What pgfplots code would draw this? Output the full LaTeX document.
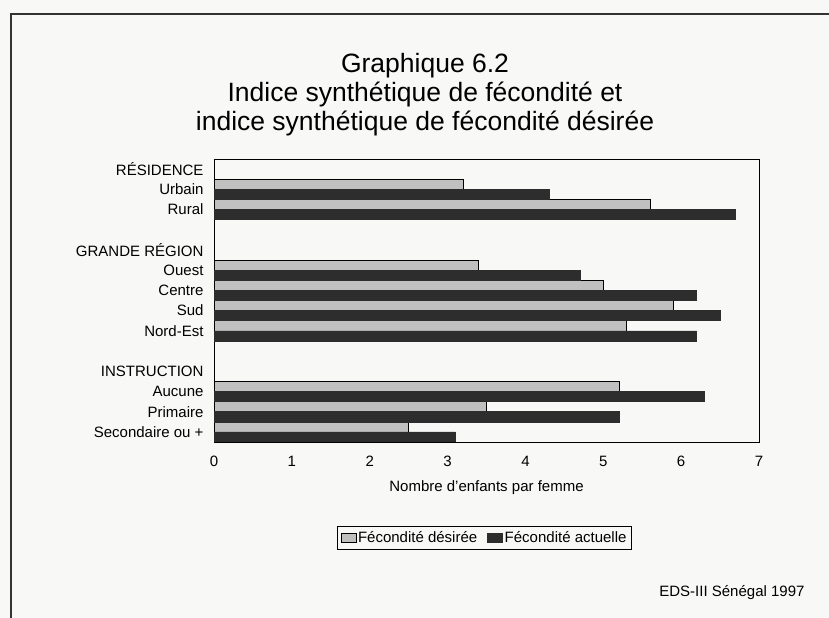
\documentclass[border=0pt]{standalone}
\usepackage{fontspec}
\setmainfont{Liberation Sans}
\usepackage{pgfplots}
\pgfplotsset{compat=1.18}
\definecolor{desir}{RGB}{192,192,192}
\definecolor{actu}{RGB}{45,45,45}
\definecolor{bg}{RGB}{248,248,246}
\begin{document}
\begin{tikzpicture}[x=1bp,y=1bp]
\useasboundingbox (0,0) rectangle (829,618);
\fill[bg] (0,0) rectangle (829,618);
\draw[line width=2.5bp, black!80] (11,0) -- (11,604) -- (829,604);
\node[anchor=base, font=\fontsize{26.5bp}{30bp}\selectfont] at (425,545) {Graphique 6.2};
\node[anchor=base, font=\fontsize{26.5bp}{30bp}\selectfont] at (425,516) {Indice synthétique de fécondité et};
\node[anchor=base, font=\fontsize{26.5bp}{30bp}\selectfont] at (425,487) {indice synthétique de fécondité désirée};
\node[anchor=base east, font=\fontsize{15bp}{18bp}\selectfont] at (808,21) {EDS-III Sénégal 1997};
\begin{axis}[
  at={(214bp,176bp)}, anchor=south west,
  scale only axis, width=545bp, height=283bp,
  xbar, bar width=0.5,
  xmin=0, xmax=7, ymin=-0.5, ymax=13.5,
  xtick={0,1,...,7}, ytick={0,1,...,13},
  yticklabels={Secondaire ou +, Primaire, Aucune, INSTRUCTION, {}, Nord-Est, Sud, Centre, Ouest, GRANDE RÉGION, {}, Rural, Urbain, RÉSIDENCE},
  major tick length=0,
  axis line style={black, line width=0.8bp},
  tick label style={font=\fontsize{15bp}{18bp}\selectfont},
  yticklabel style={xshift=-7bp},
  xticklabel style={yshift=-11bp},
  /pgf/number format/assume math mode=true,
  xlabel={Nombre d’enfants par femme},
  x label style={at={(axis description cs:0.5,-0.160)}, anchor=center, font=\fontsize{15bp}{18bp}\selectfont},
  legend columns=2,
  legend style={at={(axis description cs:0.4963,-0.339)}, anchor=center, draw=black, line width=0.8bp, fill=none,
    font=\fontsize{15bp}{18bp}\selectfont, inner xsep=3bp, inner ysep=3.5bp,
    /tikz/every even column/.append style={column sep=8bp}},
  legend image code/.code={\draw[#1, line width=0.5bp] (0bp,-4.5bp) rectangle (15bp,5bp);},
]
\addplot[fill=desir, draw=black, line width=0.5bp, bar shift=0.25] coordinates {
  (3.2,12) (5.6,11) (3.4,8) (5.0,7) (5.9,6) (5.3,5) (5.2,2) (3.5,1) (2.5,0)};
\addplot[fill=actu, draw=actu, line width=0.5bp, bar shift=-0.25] coordinates {
  (4.3,12) (6.7,11) (4.7,8) (6.2,7) (6.5,6) (6.2,5) (6.3,2) (5.2,1) (3.1,0)};
\legend{Fécondité désirée, Fécondité actuelle}
\end{axis}
\end{tikzpicture}
\end{document}
